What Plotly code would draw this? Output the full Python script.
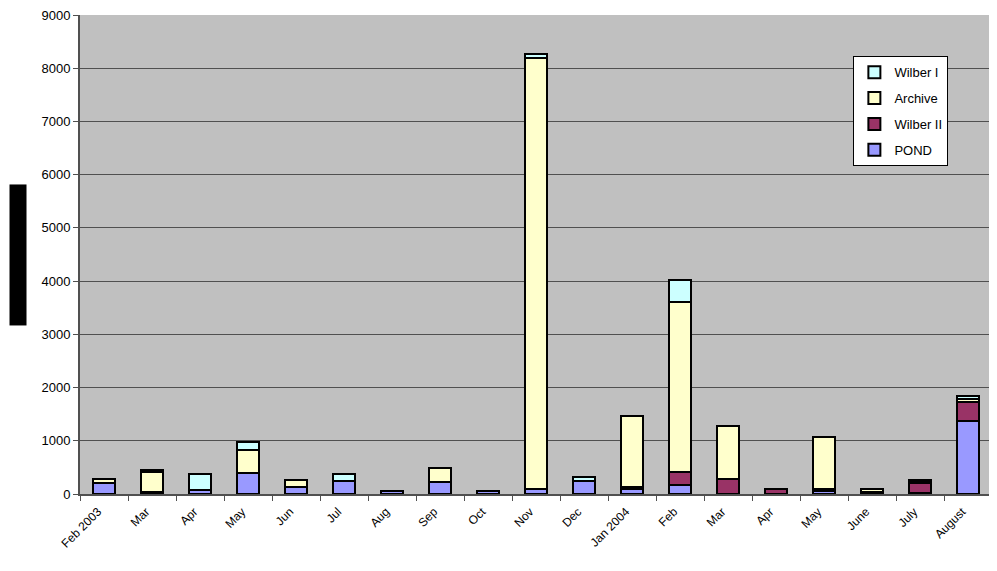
import plotly.graph_objects as go

# monthly request counts per service
month_keys = [
    "2003-02", "2003-03", "2003-04", "2003-05", "2003-06", "2003-07",
    "2003-08", "2003-09", "2003-10", "2003-11", "2003-12", "2004-01",
    "2004-02", "2004-03", "2004-04", "2004-05", "2004-06", "2004-07",
    "2004-08",
]
month_labels = [
    "Feb 2003", "Mar", "Apr", "May", "Jun", "Jul", "Aug", "Sep", "Oct",
    "Nov", "Dec", "Jan 2004", "Feb", "Mar", "Apr", "May", "June", "July",
    "August",
]
pond = [210, 20, 70, 400, 140, 250, 65, 220, 65, 100, 250, 90, 175, 0, 0,
        50, 0, 20, 1370]
wilber_ii = [0, 10, 0, 0, 0, 0, 0, 0, 0, 0, 0, 50, 240, 290, 100, 40, 30,
             180, 355]
archive = [80, 375, 0, 420, 120, 0, 0, 260, 0, 8090, 0, 1320, 3190, 980, 0,
           990, 70, 30, 55]
wilber_i = [0, 40, 300, 160, 0, 120, 0, 0, 0, 70, 75, 0, 410, 0, 0, 0, 0,
            30, 55]

# stacked bottom to top; legend lists them top to bottom
series = [
    ("POND", pond, "#9999FF"),
    ("Wilber II", wilber_ii, "#993366"),
    ("Archive", archive, "#FFFFCC"),
    ("Wilber I", wilber_i, "#CCFFFF"),
]

fig = go.Figure()
for i, (name, values, colour) in enumerate(series):
    fig.add_trace(
        go.Bar(
            x=month_keys,
            y=values,
            name=name,
            legendgroup=name,
            legendrank=len(series) - i,
            marker=dict(color=colour, line=dict(color="black", width=2)),
        )
    )

# the page body adds ~8px, so margins are trimmed to land the plot at 80,15
fig.update_layout(
    width=997,
    height=571,
    barmode="stack",
    bargap=0.55,
    paper_bgcolor="white",
    plot_bgcolor="#C0C0C0",
    font=dict(family="Liberation Sans, Arial", color="black"),
    margin=dict(l=72, r=13, t=7, b=85),
    legend=dict(
        traceorder="grouped",
        x=0.848,
        y=0.914,
        xanchor="left",
        yanchor="top",
        bgcolor="white",
        bordercolor="black",
        borderwidth=1,
        font=dict(size=13),
        itemwidth=30,
        tracegroupgap=6,
    ),
    xaxis=dict(
        type="category",
        tickmode="array",
        tickvals=month_keys,
        ticktext=month_labels,
        tickangle=-45,
        tickfont=dict(size=12),
        ticklabelshift=-6,
        ticklabelstandoff=4,
        tickson="boundaries",
        ticks="outside",
        ticklen=5,
        tickcolor="#505050",
        showline=True,
        linecolor="#505050",
        linewidth=2,
        showgrid=False,
        automargin=False,
    ),
    yaxis=dict(
        range=[0, 9000],
        dtick=1000,
        tickfont=dict(size=13),
        ticklabeloverflow="allow",
        ticks="outside",
        ticklen=5,
        tickcolor="#505050",
        showline=True,
        linecolor="#505050",
        linewidth=2,
        gridcolor="#505050",
        gridwidth=1,
        zeroline=False,
        automargin=False,
    ),
)

# axis title shown as a solid black block in the original
fig.add_annotation(
    text="Number of requests",
    xref="paper",
    yref="paper",
    x=-0.068,
    y=0.499,
    xanchor="center",
    yanchor="middle",
    textangle=-90,
    showarrow=False,
    font=dict(size=11, color="black"),
    bgcolor="black",
    width=138,
    height=14,
    borderpad=1,
)

fig.write_html("out.html")
